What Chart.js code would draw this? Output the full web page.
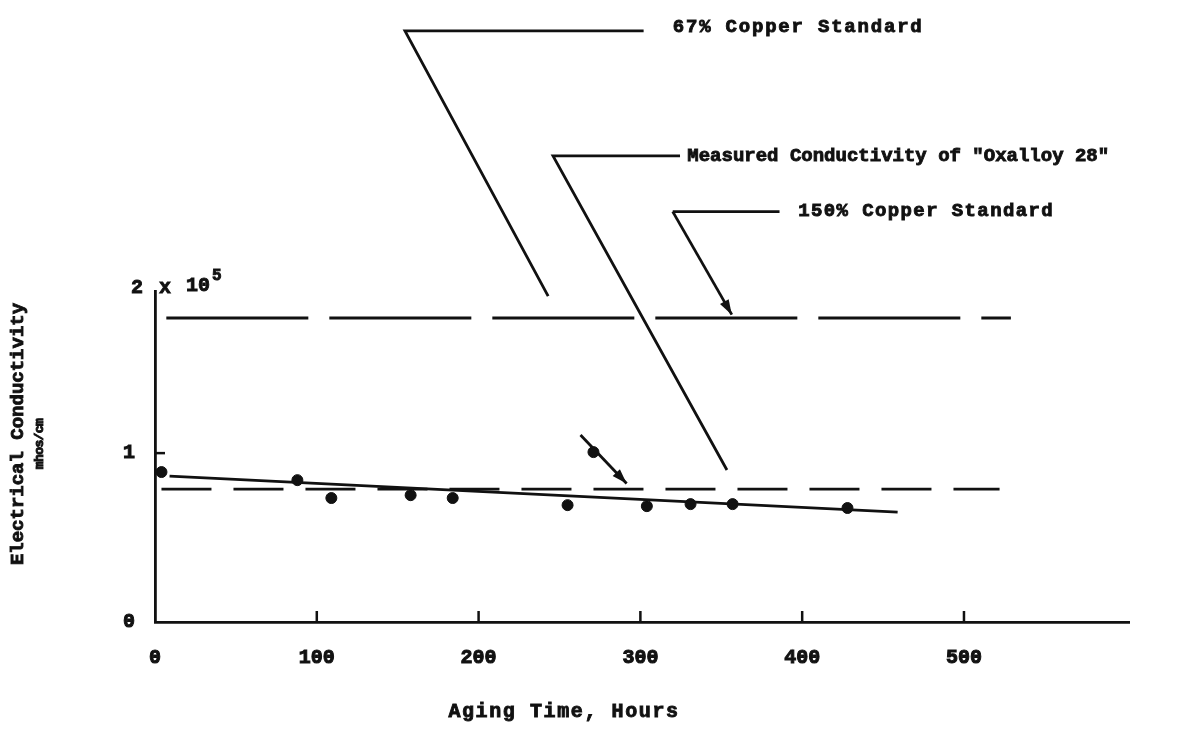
<!DOCTYPE html>
<html>
<head>
<meta charset="utf-8">
<script src="https://cdn.jsdelivr.net/npm/chart.js@4"></script>
<style>
  html, body { margin: 0; padding: 0; background: #fff; }
</style>
</head>
<body>
<canvas id="chart" width="1192" height="740"></canvas>
<script>
// values (conductivity in units of 10^5 mhos/cm)
const agingHours = [4, 88, 109, 158, 184, 255, 271, 304, 331, 357, 428];
const conductivity = [0.888, 0.84, 0.734, 0.751, 0.734, 0.692, 1.006, 0.686, 0.698, 0.698, 0.675];
const fitHours = [9, 459];
const fitConductivity = [0.864, 0.651];
const copper67 = 0.787;
const copper150 = 1.80;
const copper67Hours = [4, 522];
const copper150Hours = [7, 529];
const xTicks = [0, 100, 200, 300, 400, 500];
const yTicks = [0, 1];

const INK = '#111';
const FONT = '"Liberation Mono", "DejaVu Sans Mono", monospace';

// leader lines for the labels, in data units
const callouts = [
  { text: '67% Copper Standard', at: [320, 3.52], spacing: 1.8,
    path: [[302, 3.50], [154.5, 3.50], [243, 1.93]],
    arrow: [[263, 1.107], [291.5, 0.82]] },
  { text: 'Measured Conductivity of "Oxalloy 28"', at: [329, 2.76], spacing: 0,
    path: [[324.5, 2.76], [246, 2.76], [353.5, 0.90]] },
  { text: '150% Copper Standard', at: [397.5, 2.43], spacing: 1.4,
    path: [[386, 2.43], [320, 2.43]],
    arrow: [[320, 2.43], [356.5, 1.82]] }
];

function arrowHead(ctx, x1, y1, x2, y2) {
  const a = Math.atan2(y2 - y1, x2 - x1);
  const len = 15, w = 5;
  ctx.beginPath();
  ctx.moveTo(x2, y2);
  ctx.lineTo(x2 - len * Math.cos(a) + w * Math.sin(a), y2 - len * Math.sin(a) - w * Math.cos(a));
  ctx.lineTo(x2 - len * Math.cos(a) - w * Math.sin(a), y2 - len * Math.sin(a) + w * Math.cos(a));
  ctx.closePath();
  ctx.fill();
}

// typewriter ink is heavy, so fill and stroke each label
function inkText(ctx, text, x, y) {
  ctx.fillText(text, x, y);
  ctx.strokeText(text, x, y);
}

const annotations = {
  id: 'annotations',
  afterDraw(chart) {
    const ctx = chart.ctx;
    const xs = chart.scales.x, ys = chart.scales.y;
    const area = chart.chartArea;
    const px = v => xs.getPixelForValue(v);
    const py = v => ys.getPixelForValue(v);

    ctx.save();
    ctx.strokeStyle = INK;
    ctx.fillStyle = INK;
    ctx.lineWidth = 2.5;

    // tick marks sit inside the axes
    xTicks.filter(v => v > 0).forEach(v => {
      ctx.beginPath();
      ctx.moveTo(px(v), area.bottom);
      ctx.lineTo(px(v), area.bottom - 11);
      ctx.stroke();
    });
    yTicks.filter(v => v > 0).forEach(v => {
      ctx.beginPath();
      ctx.moveTo(area.left, py(v));
      ctx.lineTo(area.left + 10, py(v));
      ctx.stroke();
    });

    // leader lines and their labels
    callouts.forEach(c => {
      ctx.lineWidth = 2.8;
      ctx.beginPath();
      c.path.forEach(([x, y], i) => i ? ctx.lineTo(px(x), py(y)) : ctx.moveTo(px(x), py(y)));
      ctx.stroke();
      if (c.arrow) {
        const [[ax1, ay1], [ax2, ay2]] = c.arrow;
        ctx.beginPath();
        ctx.moveTo(px(ax1), py(ay1));
        ctx.lineTo(px(ax2), py(ay2));
        ctx.stroke();
        arrowHead(ctx, px(ax1), py(ay1), px(ax2), py(ay2));
      }
      ctx.lineWidth = 0.9;
      ctx.font = 'bold 19px ' + FONT;
      ctx.letterSpacing = c.spacing + 'px';
      ctx.textAlign = 'left';
      ctx.textBaseline = 'middle';
      inkText(ctx, c.text, px(c.at[0]), py(c.at[1]));
    });

    // "2 x 10^5" straddles the top of the y axis
    const y2 = py(2) + 4;
    ctx.letterSpacing = '0px';
    ctx.font = 'bold 20px ' + FONT;
    ctx.textAlign = 'right';
    inkText(ctx, '2', area.left - 12, y2);
    ctx.textAlign = 'left';
    inkText(ctx, 'x', area.left + 4, y2);
    inkText(ctx, '10', area.left + 31, y2 - 2);
    ctx.font = 'bold 16px ' + FONT;
    inkText(ctx, '5', area.left + 57, y2 - 12);

    // axis titles
    ctx.font = 'bold 20px ' + FONT;
    ctx.letterSpacing = '1.6px';
    ctx.textAlign = 'center';
    inkText(ctx, 'Aging Time, Hours', 564, 712);

    ctx.letterSpacing = '0px';
    ctx.save();
    ctx.translate(18, 434);
    ctx.rotate(-Math.PI / 2);
    ctx.font = 'bold 19px ' + FONT;
    inkText(ctx, 'Electrical Conductivity', 0, 0);
    ctx.restore();
    ctx.save();
    ctx.translate(40, 444);
    ctx.rotate(-Math.PI / 2);
    ctx.font = 'bold 13px ' + FONT;
    ctx.letterSpacing = '-0.6px';
    inkText(ctx, 'mhos/cm', 0, 0);
    ctx.restore();

    ctx.restore();
  }
};

const tickFont = { family: FONT, size: 20, weight: 'bold' };

new Chart(document.getElementById('chart'), {
  type: 'scatter',
  data: {
    datasets: [
      {
        data: fitHours.map((h, i) => ({ x: h, y: fitConductivity[i] })),
        showLine: true, pointRadius: 0, borderColor: INK, borderWidth: 2.8
      },
      {
        data: copper67Hours.map(h => ({ x: h, y: copper67 })),
        showLine: true, pointRadius: 0, borderColor: INK, borderWidth: 2.8,
        borderDash: [50, 22]
      },
      {
        data: copper150Hours.map(h => ({ x: h, y: copper150 })),
        showLine: true, pointRadius: 0, borderColor: INK, borderWidth: 2.8,
        borderDash: [142, 21]
      },
      {
        data: agingHours.map((h, i) => ({ x: h, y: conductivity[i] })),
        pointRadius: 5.5, pointBackgroundColor: INK, pointBorderColor: INK
      }
    ]
  },
  options: {
    responsive: false,
    animation: false,
    layout: { padding: { left: 0, right: 63, top: 291, bottom: 0 } },
    plugins: { legend: { display: false }, tooltip: { enabled: false } },
    scales: {
      x: {
        type: 'linear', min: 0, max: 602,
        afterBuildTicks: s => { s.ticks = xTicks.map(v => ({ value: v })); },
        afterFit: s => { s.height = 118; },
        grid: { display: false },
        border: { display: true, color: INK, width: 2.8 },
        ticks: { padding: 16, color: INK, autoSkip: false, maxRotation: 0,
                 textStrokeColor: INK, textStrokeWidth: 1, font: tickFont }
      },
      y: {
        type: 'linear', min: 0, max: 1.96,
        afterBuildTicks: s => { s.ticks = yTicks.map(v => ({ value: v })); },
        afterFit: s => { s.width = 155; },
        grid: { display: false },
        border: { display: true, color: INK, width: 2.8 },
        ticks: { padding: 12, color: INK,
                 textStrokeColor: INK, textStrokeWidth: 1, font: tickFont }
      }
    }
  },
  plugins: [annotations]
});
</script>
</body>
</html>
